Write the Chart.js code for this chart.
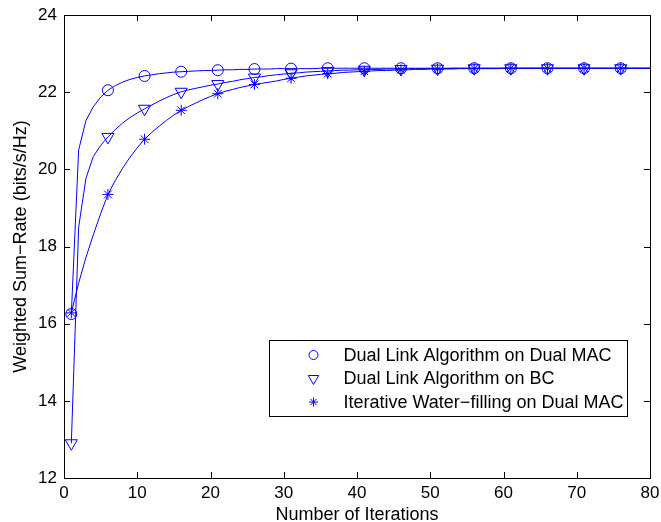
<!DOCTYPE html>
<html>
<head>
<meta charset="utf-8">
<script src="https://cdn.jsdelivr.net/npm/chart.js@4.4.1/dist/chart.umd.min.js"></script>
<style>
  html, body { margin: 0; padding: 0; background: #fff; }
  #wrap { width: 661px; height: 522px; }
</style>
</head>
<body>
<div id="wrap"><canvas id="rateChart" width="661" height="522"></canvas></div>
<script>
const iterations = [
  1, 2, 3, 4, 5, 6, 7, 8, 9, 10, 11, 12, 13, 14, 15, 16, 17, 18, 19, 20,
  21, 22, 23, 24, 25, 26, 27, 28, 29, 30, 31, 32, 33, 34, 35, 36, 37, 38, 39, 40,
  41, 42, 43, 44, 45, 46, 47, 48, 49, 50, 51, 52, 53, 54, 55, 56, 57, 58, 59, 60,
  61, 62, 63, 64, 65, 66, 67, 68, 69, 70, 71, 72, 73, 74, 75, 76, 77, 78, 79, 80
];

// Dual Link Algorithm on Dual MAC
const dualLinkMac = [
  16.25, 20.50, 21.27, 21.62, 21.87, 22.05, 22.17, 22.26, 22.33, 22.38,
  22.42, 22.45, 22.48, 22.50, 22.52, 22.53, 22.54, 22.55, 22.56, 22.56,
  22.57, 22.58, 22.58, 22.59, 22.59, 22.60, 22.60, 22.60, 22.61, 22.61,
  22.61, 22.61, 22.61, 22.61, 22.62, 22.62, 22.62, 22.62, 22.62, 22.62,
  22.62, 22.62, 22.62, 22.62, 22.62, 22.62, 22.62, 22.62, 22.62, 22.62,
  22.62, 22.62, 22.62, 22.62, 22.62, 22.62, 22.62, 22.62, 22.62, 22.62,
  22.62, 22.62, 22.62, 22.62, 22.62, 22.62, 22.62, 22.62, 22.62, 22.62,
  22.62, 22.62, 22.62, 22.62, 22.62, 22.62, 22.62, 22.62, 22.62, 22.62
];

// Dual Link Algorithm on BC
const dualLinkBc = [
  12.90, 18.50, 19.77, 20.33, 20.62, 20.84, 21.03, 21.20, 21.34, 21.46,
  21.57, 21.67, 21.77, 21.86, 21.94, 22.01, 22.06, 22.10, 22.14, 22.18,
  22.21, 22.25, 22.28, 22.32, 22.35, 22.38, 22.40, 22.43, 22.45, 22.47,
  22.49, 22.50, 22.52, 22.53, 22.54, 22.55, 22.56, 22.57, 22.57, 22.58,
  22.58, 22.59, 22.59, 22.60, 22.60, 22.60, 22.61, 22.61, 22.61, 22.61,
  22.61, 22.61, 22.62, 22.62, 22.62, 22.62, 22.62, 22.62, 22.62, 22.62,
  22.62, 22.62, 22.62, 22.62, 22.62, 22.62, 22.62, 22.62, 22.62, 22.62,
  22.62, 22.62, 22.62, 22.62, 22.62, 22.62, 22.62, 22.62, 22.62, 22.62
];

// Iterative Water-filling on Dual MAC
const waterFillingMac = [
  16.28, 17.05, 17.72, 18.30, 18.85, 19.35, 19.71, 20.03, 20.31, 20.56,
  20.78, 20.96, 21.12, 21.27, 21.41, 21.53, 21.63, 21.72, 21.81, 21.89,
  21.96, 22.02, 22.07, 22.12, 22.16, 22.20, 22.23, 22.26, 22.29, 22.33,
  22.36, 22.39, 22.42, 22.44, 22.46, 22.48, 22.49, 22.51, 22.52, 22.53,
  22.54, 22.55, 22.56, 22.56, 22.57, 22.58, 22.58, 22.59, 22.59, 22.60,
  22.60, 22.60, 22.60, 22.61, 22.61, 22.61, 22.61, 22.61, 22.61, 22.62,
  22.62, 22.62, 22.62, 22.62, 22.62, 22.62, 22.62, 22.62, 22.62, 22.62,
  22.62, 22.62, 22.62, 22.62, 22.62, 22.62, 22.62, 22.62, 22.62, 22.62
];

const seriesNames = [
  'Dual Link Algorithm on Dual MAC',
  'Dual Link Algorithm on BC',
  'Iterative Water\u2212filling on Dual MAC'
];

const xTicks = [0, 10, 20, 30, 40, 50, 60, 70, 80];
const yTicks = [12, 14, 16, 18, 20, 22, 24];

const BLUE = '#0000ff';
const FONT = '"Liberation Sans", Arial, Helvetica, sans-serif';
const markerEvery = 5;

function toPoints(values) {
  return values.map((v, i) => ({ x: iterations[i], y: v }));
}

function makeSet(label, values, style, radius, rotation) {
  return {
    label: label,
    data: toPoints(values),
    borderColor: BLUE,
    borderWidth: 1,
    backgroundColor: 'rgba(0,0,0,0)',
    pointStyle: style,
    pointRotation: rotation,
    pointBorderColor: BLUE,
    pointBackgroundColor: 'rgba(0,0,0,0)',
    pointBorderWidth: 1,
    pointRadius: ctx => (ctx.dataIndex % markerEvery === 0 ? radius : 0),
    pointHoverRadius: 0,
    tension: 0,
    fill: false
  };
}

// inward ticks and frame, matlab style
const framePlugin = {
  id: 'frame',
  afterDatasetsDraw(chart) {
    const { ctx, chartArea: a, scales } = chart;
    const len = 6;
    ctx.save();
    ctx.strokeStyle = '#000';
    ctx.lineWidth = 1;
    ctx.beginPath();
    xTicks.forEach(v => {
      const x = Math.round(scales.x.getPixelForValue(v)) + 0.5;
      ctx.moveTo(x, a.bottom); ctx.lineTo(x, a.bottom - len);
      ctx.moveTo(x, a.top); ctx.lineTo(x, a.top + len);
    });
    yTicks.forEach(v => {
      const y = Math.round(scales.y.getPixelForValue(v)) + 0.5;
      ctx.moveTo(a.left, y); ctx.lineTo(a.left + len, y);
      ctx.moveTo(a.right, y); ctx.lineTo(a.right - len, y);
    });
    ctx.stroke();
    ctx.strokeRect(Math.round(a.left) + 0.5, Math.round(a.top) + 0.5,
      Math.round(a.right - a.left), Math.round(a.bottom - a.top));
    ctx.restore();
  }
};

// legend box sitting inside the plot, lower right
const boxLegend = {
  id: 'boxLegend',
  afterDraw(chart) {
    const { ctx, chartArea: a } = chart;
    ctx.save();
    ctx.font = '18px ' + FONT;
    const textW = Math.max(...seriesNames.map(s => ctx.measureText(s).width));
    const textOffset = 74;
    const w = textOffset + textW + 4;
    const h = 76;
    const right = a.right - 23;
    const bottom = a.bottom - 62;
    const left = Math.round(right - w) + 0.5;
    const top = Math.round(bottom - h) + 0.5;
    ctx.fillStyle = '#fff';
    ctx.fillRect(left, top, Math.round(w), h);
    ctx.strokeStyle = '#000';
    ctx.lineWidth = 1;
    ctx.strokeRect(left, top, Math.round(w), h);
    const rowH = 23.5;
    chart.data.datasets.forEach((ds, i) => {
      const cy = top + 14.5 + i * rowH;
      ctx.strokeStyle = BLUE;
      ctx.fillStyle = 'rgba(0,0,0,0)';
      ctx.lineWidth = 1;
      Chart.helpers.drawPoint(ctx, {
        pointStyle: ds.pointStyle,
        rotation: ds.pointRotation,
        radius: ds.pointStyle === 'triangle' ? 6 : 4.5,
        borderWidth: 1
      }, left + 44, cy);
      ctx.fillStyle = '#000';
      ctx.textBaseline = 'middle';
      ctx.textAlign = 'left';
      ctx.fillText(ds.label, left + textOffset, cy + 1);
    });
    ctx.restore();
  }
};

const ctx = document.getElementById('rateChart').getContext('2d');
const rateChart = new Chart(ctx, {
  type: 'line',
  data: {
    datasets: [
      makeSet(seriesNames[0], dualLinkMac, 'circle', 5.5, 0),
      makeSet(seriesNames[1], dualLinkBc, 'triangle', 7, 180),
      makeSet(seriesNames[2], waterFillingMac, 'star', 5.5, 0)
    ]
  },
  options: {
    responsive: false,
    animation: false,
    events: [],
    layout: { padding: { top: 15, right: 11, left: 0, bottom: 0 } },
    plugins: {
      legend: { display: false },
      tooltip: { enabled: false }
    },
    scales: {
      x: {
        type: 'linear',
        min: 0,
        max: 80,
        afterBuildTicks: s => { s.ticks = xTicks.map(v => ({ value: v })); },
        afterFit: s => { s.height = 44; s.paddingLeft = 0; s.paddingRight = 0; },
        grid: { drawOnChartArea: false, drawTicks: false },
        border: { display: false },
        ticks: { color: '#000', padding: 5, maxRotation: 0, font: { family: FONT, size: 17 } },
        title: {
          display: true,
          text: 'Number of Iterations',
          color: '#000',
          font: { family: FONT, size: 18, lineHeight: 1 },
          padding: { top: 0, bottom: -2 }
        }
      },
      y: {
        type: 'linear',
        min: 12,
        max: 24,
        afterBuildTicks: s => { s.ticks = yTicks.map(v => ({ value: v })); },
        afterFit: s => { s.width = 64; s.paddingTop = 0; s.paddingBottom = 0; },
        grid: { drawOnChartArea: false, drawTicks: false },
        border: { display: false },
        ticks: { color: '#000', padding: 7, font: { family: FONT, size: 17 } },
        title: {
          display: true,
          text: 'Weighted Sum\u2212Rate (bits/s/Hz)',
          color: '#000',
          font: { family: FONT, size: 18, lineHeight: 1 },
          padding: { top: 12, bottom: 0 }
        }
      }
    }
  },
  plugins: [framePlugin, boxLegend]
});
</script>
</body>
</html>
